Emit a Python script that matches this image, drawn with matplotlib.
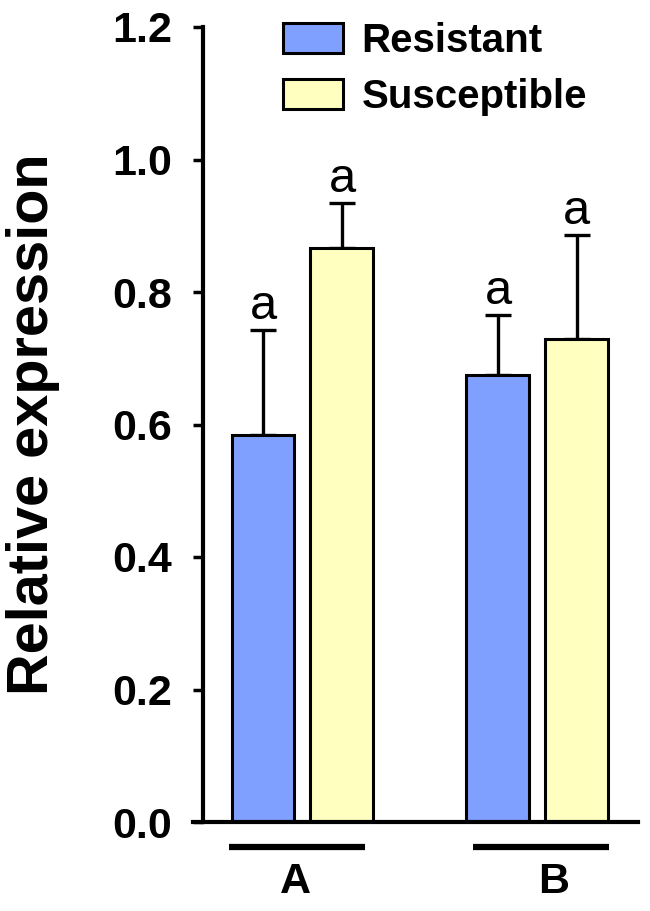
import matplotlib.pyplot as plt
import numpy as np

plt.rcParams['font.family'] = ['Liberation Sans', 'DejaVu Sans']

groups = ['A', 'B']
resistant = [0.584, 0.675]
susceptible = [0.866, 0.729]
resistant_err = [0.159, 0.090]
susceptible_err = [0.068, 0.157]
letters_res = ['a', 'a']
letters_sus = ['a', 'a']

blue = '#80A0FF'
yellow = '#FFFFC0'

fig = plt.figure(figsize=(6.5, 9.11), dpi=100)
ax = fig.add_axes([193/650, 89/911, 445/650, 795/911])

x = np.arange(len(groups))
width = 0.268
off = 0.168

ax.bar(x - off, resistant, width=width, color=blue, edgecolor='black',
       linewidth=2.2, label='Resistant', zorder=2)
ax.bar(x + off, susceptible, width=width, color=yellow, edgecolor='black',
       linewidth=2.2, label='Susceptible', zorder=2)

# upper error bars only
ax.errorbar(x - off, resistant, yerr=[np.zeros(2), resistant_err], fmt='none',
            ecolor='black', elinewidth=2.4, capsize=9.5, capthick=2.4, zorder=1)
ax.errorbar(x + off, susceptible, yerr=[np.zeros(2), susceptible_err], fmt='none',
            ecolor='black', elinewidth=2.4, capsize=9.5, capthick=2.4, zorder=1)

for xi, v, e, t in zip(x - off, resistant, resistant_err, letters_res):
    ax.annotate(t, (xi, v + e), xytext=(0, 8), textcoords='offset points',
                ha='center', va='baseline', fontsize=35)
for xi, v, e, t in zip(x + off, susceptible, susceptible_err, letters_sus):
    ax.annotate(t, (xi, v + e), xytext=(0, 8), textcoords='offset points',
                ha='center', va='baseline', fontsize=35)

ax.set_xlim(-0.466, 1.428)
ax.set_ylim(0, 1.2)
ax.spines['top'].set_visible(False)
ax.spines['right'].set_visible(False)
ax.spines['left'].set_position(('data', -0.4234))
ax.spines['left'].set_linewidth(3)
ax.spines['bottom'].set_linewidth(3)
ax.set_xticks([])
ax.set_yticks(np.arange(0, 1.21, 0.2))
ax.set_yticklabels(['%.1f' % v for v in np.arange(0, 1.21, 0.2)],
                   fontsize=31, fontweight='bold')
ax.tick_params(axis='y', direction='out', length=7.5, width=2.5, pad=15)

# group bars and labels under the axis
group_lines = [(-0.313, 0.266), (0.726, 1.304)]
label_pos = [-0.032, 1.07]
for (x0, x1), lx, g in zip(group_lines, label_pos, groups):
    ax.plot([x0, x1], [-0.0377, -0.0377], color='black', lw=4.5,
            solid_capstyle='butt', clip_on=False)
    ax.text(lx, -0.107, g, ha='center', va='baseline', fontsize=31,
            fontweight='bold', clip_on=False)

fig.text(33/650, 1 - 424/911, 'Relative expression', rotation=90,
         ha='center', va='center', fontsize=41.5, fontweight='bold')

ax.legend(loc='upper left', bbox_to_anchor=(283/650, 1 - 22/911),
          bbox_transform=fig.transFigure, frameon=False, borderpad=0,
          borderaxespad=0, handlelength=1.5, handleheight=0.75,
          handletextpad=0.45, labelspacing=0.45,
          prop={'size': 29, 'weight': 'bold'})
for p in ax.get_legend().get_patches():
    p.set_linewidth(2.2)

fig.savefig('out.png', dpi=100)
